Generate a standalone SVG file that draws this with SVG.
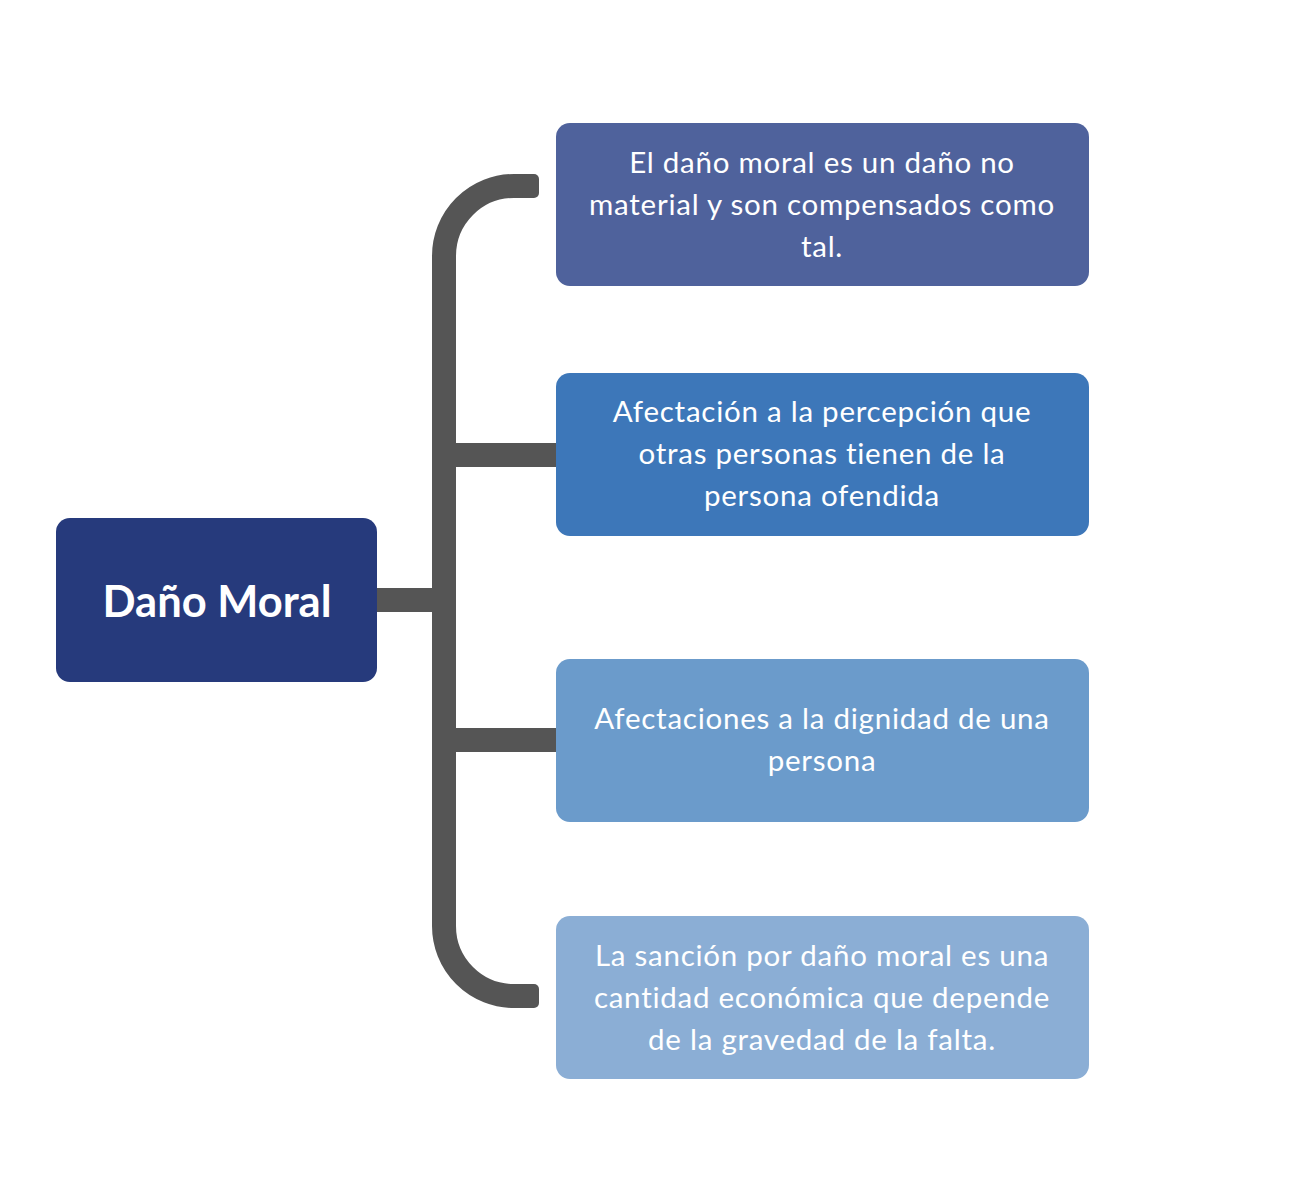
<svg xmlns="http://www.w3.org/2000/svg" width="1300" height="1200" viewBox="0 0 1300 1200">
<style>
.conn{fill:none;stroke:#555555;stroke-width:24}
.t{font-family:Lato,"Liberation Sans",sans-serif;font-size:29.5px;letter-spacing:0.75px;font-variant-ligatures:none;fill:#ffffff;text-anchor:middle}
.title{font-family:Lato,"Liberation Sans",sans-serif;font-size:43.5px;font-weight:bold;fill:#ffffff;text-anchor:middle}
</style>
<rect width="1300" height="1200" fill="#ffffff"/>
<g id="connectors">
<path class="conn" d="M 534 186 L 514 186 A 70 70 0 0 0 444 256 L 444 926 A 70 70 0 0 0 514 996 L 534 996"/>
<rect x="522" y="174" width="17" height="24" rx="5" fill="#555555"/>
<rect x="522" y="984" width="17" height="24" rx="5" fill="#555555"/>
<path class="conn" d="M 377 600 L 444 600"/>
<path class="conn" d="M 444 455 L 556 455"/>
<path class="conn" d="M 444 740 L 556 740"/>
</g>
<g id="root">
<rect x="56" y="518" width="321" height="164" rx="14" fill="#263A7C"/>
<text class="title" x="217" y="617">Daño Moral</text>
</g>
<g id="node1">
<rect x="556" y="123" width="533" height="163" rx="14" fill="#4F629C"/>
<text class="t" x="822" y="173">El daño moral es un daño no</text>
<text class="t" x="822" y="215">material y son compensados como</text>
<text class="t" x="822" y="257">tal.</text>
</g>
<g id="node2">
<rect x="556" y="373" width="533" height="163" rx="14" fill="#3D77B9"/>
<text class="t" x="822" y="422">Afectación a la percepción que</text>
<text class="t" x="822" y="464">otras personas tienen de la</text>
<text class="t" x="822" y="506">persona ofendida</text>
</g>
<g id="node3">
<rect x="556" y="659" width="533" height="163" rx="14" fill="#6B9BCB"/>
<text class="t" x="822" y="729">Afectaciones a la dignidad de una</text>
<text class="t" x="822" y="771">persona</text>
</g>
<g id="node4">
<rect x="556" y="916" width="533" height="163" rx="14" fill="#8BAED5"/>
<text class="t" x="822" y="966">La sanción por daño moral es una</text>
<text class="t" x="822" y="1008">cantidad económica que depende</text>
<text class="t" x="822" y="1050">de la gravedad de la falta.</text>
</g>
</svg>
